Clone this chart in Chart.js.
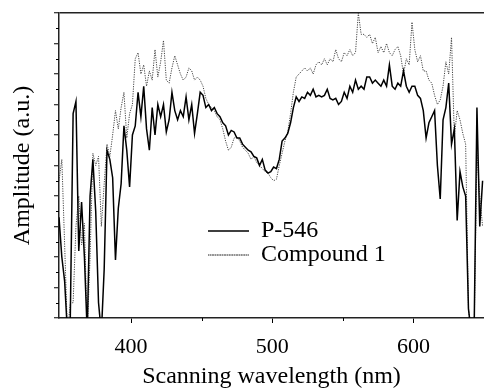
<!DOCTYPE html>
<html><head><meta charset="utf-8">
<script src="https://cdn.jsdelivr.net/npm/chart.js@4.4.1/dist/chart.umd.min.js"></script>
<style>html,body{margin:0;padding:0;background:#fff;}#wrap{width:484px;height:389px;position:relative;}</style>
</head><body><div id="wrap"><canvas id="c"></canvas></div>
<script>
const wavelength = [
349,351,353,355,357,359,361,363,365,367,
369,371,373,375,377,379,381,383,385,387,
389,391,393,395,397,399,401,403,405,407,
409,411,413,415,417,419,421,423,425,427,
429,431,433,435,437,439,441,443,445,447,
449,451,453,455,457,459,461,463,465,467,
469,471,473,475,477,479,481,483,485,487,
489,491,493,495,497,499,501,503,505,507,
509,511,513,515,517,519,521,523,525,527,
529,531,533,535,537,539,541,543,545,547,
549,551,553,555,557,559,561,563,565,567,
569,571,573,575,577,579,581,583,585,587,
589,591,593,595,597,599,601,603,605,607,
609,611,613,615,617,619,621,623,625,627,
629,631,633,635,637,639,641,643,645,647,
649];
const p546 = [
3.3,2.0,1.2,-0.5,0.0,6.7,7.1,2.2,3.8,2.0,
-0.5,4.0,5.2,3.5,0.5,-0.5,1.6,5.5,5.2,4.6,
1.9,3.6,4.4,6.3,5.5,4.3,6.0,6.3,7.4,6.6,
7.6,6.2,5.5,6.9,6.0,7.0,6.6,7.0,6.1,6.5,
7.4,6.8,6.5,6.8,6.6,7.25,6.5,7.0,6.05,6.7,
7.4,7.3,6.9,7.0,6.8,6.9,6.7,6.6,6.4,6.3,
6.0,6.15,6.1,5.9,5.9,5.7,5.6,5.5,5.45,5.3,
5.25,5.0,5.2,4.85,4.75,4.8,4.95,4.9,5.2,5.8,
5.9,6.05,6.4,6.9,7.25,7.1,7.25,7.2,7.4,7.3,
7.5,7.25,7.3,7.25,7.3,7.5,7.2,7.15,7.2,7.0,
7.1,7.4,7.2,7.6,7.4,7.8,7.5,7.6,7.5,7.9,
7.9,7.7,7.8,7.7,7.6,7.8,7.6,8.3,7.6,7.5,
7.7,7.6,8.1,7.6,7.4,7.6,7.6,7.3,7.2,6.8,
5.9,6.4,6.6,6.8,5.0,3.9,6.5,6.9,7.7,5.7,
6.2,3.2,4.8,4.3,4.0,0.3,-0.5,-0.5,6.9,3.0,
4.5];
const compound1 = [
4.5,5.2,2.4,-0.5,0.5,0.5,3.0,4.0,2.4,3.1,
-0.5,2.0,5.4,5.0,5.3,3.0,4.4,5.7,5.3,6.0,
6.8,6.2,6.9,7.4,5.9,6.7,7.0,8.5,8.7,8.0,
8.3,7.6,8.1,7.8,8.8,7.9,8.4,9.1,7.8,7.7,
8.2,8.6,8.3,8.0,7.8,7.9,8.2,8.1,7.8,7.9,
7.8,7.6,7.2,7.0,6.9,6.8,6.6,6.5,6.2,5.8,
5.5,5.6,5.9,5.95,5.8,5.6,5.5,5.4,5.2,5.3,
5.1,5.0,4.9,4.8,4.75,4.6,4.5,4.55,5.0,5.4,
5.8,6.1,6.7,7.4,7.9,8.0,8.1,8.2,8.1,8.2,
8.0,8.3,8.4,8.3,8.5,8.3,8.5,8.4,8.8,8.5,
8.4,8.7,8.6,8.8,8.6,8.7,10.0,9.3,9.3,9.2,
9.3,9.0,9.2,8.7,8.9,8.7,9.0,8.7,8.6,8.8,
8.9,8.6,8.0,8.5,8.3,9.7,8.8,8.4,8.6,8.1,
8.1,7.8,7.7,7.3,7.0,7.15,7.6,8.4,8.0,9.2,
5.95,6.8,6.5,6.05,5.7,0.3,-0.5,-0.5,5.4,4.0,
3.0];
const seriesNames = ['P-546', 'Compound 1'];
const xMajorTicks = [400, 500, 600];
const xMinorTicks = [450, 550];
const yMajorTicks = [0,1,2,3,4,5,6,7,8,9,10];
const yMinorTicks = [0.5,1.5,2.5,3.5,4.5,5.5,6.5,7.5,8.5,9.5];

const FONT = "'Liberation Serif', 'Times New Roman', serif";
Chart.defaults.font.family = FONT;
Chart.defaults.color = '#000';

const minorTicks = {
  id: 'minorTicks',
  afterDraw(chart) {
    const ctx = chart.ctx, xs = chart.scales.x, ys = chart.scales.y;
    ctx.save();
    ctx.strokeStyle = '#000';
    ctx.lineWidth = 1;
    ctx.beginPath();
    xMinorTicks.forEach(v => {
      const px = Math.round(xs.getPixelForValue(v)) + 0.5;
      ctx.moveTo(px, xs.top); ctx.lineTo(px, xs.top + 3);
    });
    yMinorTicks.forEach(v => {
      const py = Math.round(ys.getPixelForValue(v)) + 0.5;
      ctx.moveTo(ys.right - 3, py); ctx.lineTo(ys.right, py);
    });
    ctx.stroke();
    ctx.restore();
  }
};
const legendPlace = {
  id: 'legendPlace',
  afterLayout(chart) {
    const lg = chart.legend;
    const w = lg.width, h = lg.height;
    lg.left = 208; lg.right = lg.left + w;
    lg.top = 219; lg.bottom = lg.top + h;
  }
};

const pts = arr => arr.map((v, i) => ({x: wavelength[i], y: v}));

new Chart(document.getElementById('c'), {
  type: 'line',
  data: {
    datasets: [
      {label: seriesNames[0], data: pts(p546), borderColor: '#000', backgroundColor: 'rgba(0,0,0,0)',
       borderWidth: 1.5, pointRadius: 0, tension: 0},
      {label: seriesNames[1], data: pts(compound1), borderColor: '#444', backgroundColor: 'rgba(0,0,0,0)',
       borderWidth: 1, borderDash: [1.2, 1.2], pointRadius: 0, tension: 0}
    ]
  },
  options: {
    responsive: true, maintainAspectRatio: false, animation: false, devicePixelRatio: 1,
    layout: {padding: {top: 13, right: 0, left: 0, bottom: 0}},
    plugins: {
      tooltip: {enabled: false},
      legend: {
        position: 'chartArea', align: 'start',
        labels: {boxWidth: 41, boxHeight: 0, padding: 0, font: {size: 24, family: FONT}, color: '#000'}
      }
    },
    scales: {
      x: {
        type: 'linear', position: 'bottom', min: 349, max: 650,
        afterBuildTicks: s => { s.ticks = xMajorTicks.map(v => ({value: v})); },
        afterFit: s => { s.height = 71; },
        ticks: {font: {size: 22, family: FONT}, color: '#000', padding: 11.3, maxRotation: 0, autoSkip: false},
        grid: {drawOnChartArea: false, tickLength: 5, tickColor: '#000', color: '#000'},
        border: {display: true, color: '#222', width: 1.5},
        title: {display: true, text: 'Scanning wavelength (nm)', color: '#000',
                font: {size: 24, family: FONT, lineHeight: 1}, padding: {top: 0, bottom: 0}}
      },
      y: {
        type: 'linear', min: 0, max: 10,
        afterBuildTicks: s => { s.ticks = yMajorTicks.map(v => ({value: v})); },
        afterFit: s => { s.width = 59; },
        ticks: {display: false},
        grid: {color: c => (c.tick && c.tick.value === 10) ? '#222' : 'rgba(0,0,0,0)',
               lineWidth: 1.5, tickColor: '#000', tickWidth: 1, tickLength: 5},
        border: {display: true, color: '#222', width: 1.5},
        title: {display: true, text: 'Amplitude (a.u.)', color: '#000',
                font: {size: 24, family: FONT}, padding: {top: 8.6, bottom: 0}}
      }
    }
  },
  plugins: [minorTicks, legendPlace]
});
</script></body></html>
